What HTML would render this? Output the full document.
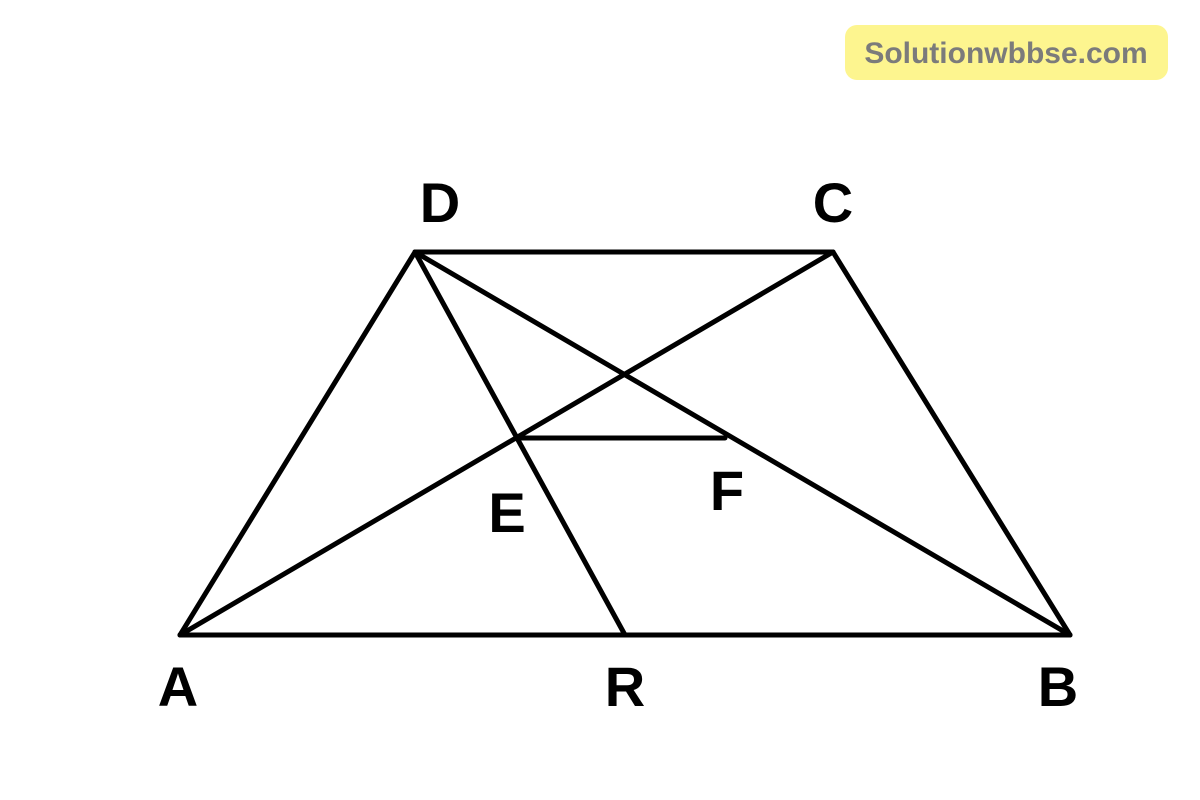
<!DOCTYPE html>
<html><head><style>
html,body{margin:0;padding:0;background:#fff;}
</style></head><body>
<svg width="1200" height="800" xmlns="http://www.w3.org/2000/svg" style="display:block">
<rect width="1200" height="800" fill="#fff"/>
<rect x="845" y="25" width="323" height="55" rx="12" fill="#fdf58f"/>
<text x="1006" y="63" text-anchor="middle" font-family="Liberation Sans, sans-serif" font-weight="bold" font-size="30" fill="#7b7b7b">Solutionwbbse.com</text>
<g stroke="#000" stroke-width="5" stroke-linecap="round" fill="none">
<line x1="180" y1="635" x2="1070" y2="635"/>
<line x1="415" y1="252" x2="833" y2="252"/>
<line x1="180" y1="635" x2="415" y2="252"/>
<line x1="833" y1="252" x2="1070" y2="635"/>
<line x1="180" y1="635" x2="833" y2="252"/>
<line x1="415" y1="252" x2="1070" y2="635"/>
<line x1="415" y1="252" x2="625" y2="635"/>
<line x1="520" y1="438" x2="725" y2="438"/>
</g>
<g font-family="Liberation Sans, sans-serif" font-weight="bold" font-size="56" fill="#000" text-anchor="middle">
<text x="440" y="222">D</text>
<text x="833" y="222">C</text>
<text x="178" y="706">A</text>
<text x="625" y="706">R</text>
<text x="1058" y="706">B</text>
<text x="507" y="532">E</text>
<text x="727" y="510">F</text>
</g>
</svg>
</body></html>
